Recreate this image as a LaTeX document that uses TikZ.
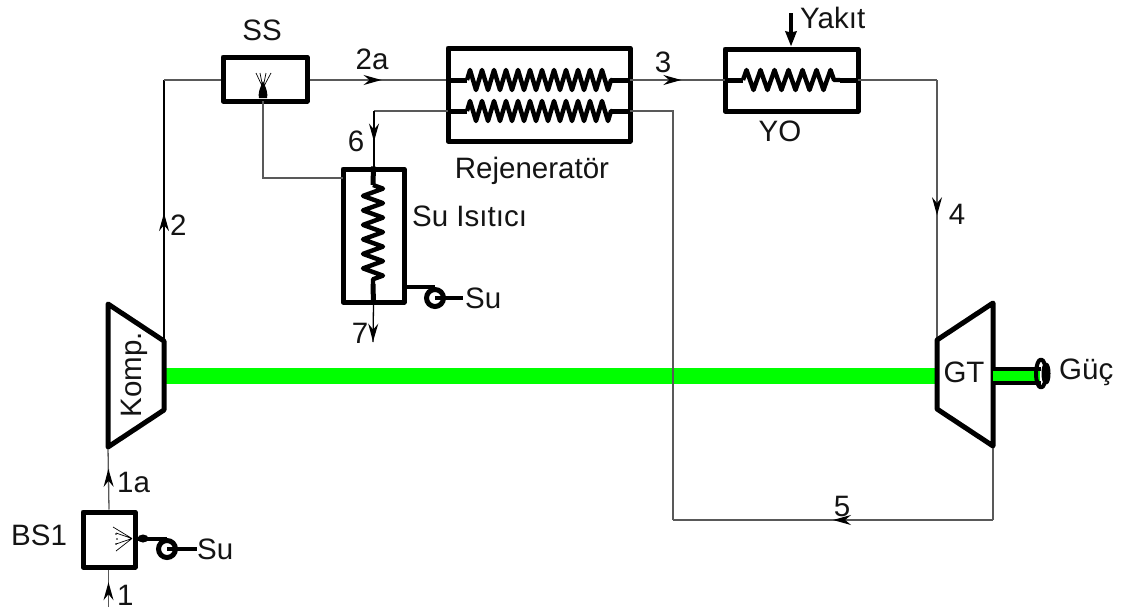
\documentclass[tikz,border=0pt]{standalone}
\usepackage{fontspec}
\setmainfont{Liberation Sans}
\usetikzlibrary{arrows.meta,decorations.pathmorphing,decorations.markings}
\tikzset{
  x=1pt,y=-1pt,
  lbl/.style={inner sep=0pt,font=\fontsize{29.5}{29.5}\selectfont,text=black!92},
  box/.style={draw=black,line width=5pt,line join=round,inner sep=0pt,fill=none},
  pipe/.style={draw=black!65,line width=1.3pt},
  solid pipe/.style={draw=black,line width=1.3pt},
  heavy/.style={draw=black,line width=5pt,line join=round},
  coil/.style={draw=black,line width=4.4pt,line join=round,decorate,
    decoration={zigzag,segment length=#1,amplitude=10pt}},
  headat/.style={postaction={decorate},decoration={markings,mark=at position #1 with
    {\arrow[black]{Stealth[length=18pt,width=10pt,inset=6pt]}}}},
  spray/.style={draw=black,line width=0.7pt},
  pumpc/.style={circle,draw=black,line width=5pt,minimum size=17pt,inner sep=0pt},
}
\begin{document}
\begin{tikzpicture}
\useasboundingbox (0,0) rectangle (1129,613);
% named points
\coordinate (kTL) at (108,304); \coordinate (kTR) at (164,341);
\coordinate (kBR) at (164,410); \coordinate (kBL) at (108,447);
\coordinate (gTL) at (937,340); \coordinate (gTR) at (993,303);
\coordinate (gBR) at (993,446); \coordinate (gBL) at (937,409);
\coordinate (in1) at (108.5,607);
\coordinate (corner2) at (164,80);
\coordinate (r1w) at (448,80); \coordinate (r1e) at (630,80);
\coordinate (r2w) at (448,111); \coordinate (r2e) at (630,111);
\coordinate (c1a) at (467,80); \coordinate (c1b) at (612,80);
\coordinate (c2a) at (467,111); \coordinate (c2b) at (612,111);
\coordinate (yw) at (725,80); \coordinate (ye) at (858,80);
\coordinate (yca) at (743,80); \coordinate (ycb) at (840,80);
\coordinate (cr4) at (937,80);
\coordinate (d5a) at (993,520); \coordinate (d5b) at (673,520); \coordinate (d5c) at (673,111);
\coordinate (c6) at (374,111); \coordinate (hca) at (373,185); \coordinate (hcb) at (373,284);
\coordinate (out7) at (373,342);
\coordinate (feedC) at (263,178); \coordinate (feedE) at (343,178);
\coordinate (yakit) at (791,13);
\coordinate (nozB) at (135,538.5); \coordinate (nozP) at (167,538.5); \coordinate (hp) at (404,287); \coordinate (hq) at (435,287);
\coordinate (ssnoz) at (263,101);
% green shaft
\fill[green!100!black] (165,368) rectangle (937,384);
% thin pipes
\draw[pipe,headat=0.62] (in1) -- (108.5,567);
\node[box,minimum width=52pt,minimum height=55pt] (bs) at (109,539.5) {};
\draw[pipe,headat=0.65] (bs.north) -- (kBL);
\draw[solid pipe,headat=0.49] (kTR) -- (corner2);
\node[box,minimum width=84pt,minimum height=44pt] (ss) at (265,79) {};
\draw[pipe] (corner2) -- (ss.west |- corner2);
\draw[pipe,headat=0.52] (ss.east |- corner2) -- (r1w);
\node[box,minimum width=182pt,minimum height=93pt] (reg) at (539,94.5) {};
\node[box,minimum width=133pt,minimum height=62pt] (yo) at (791.5,80) {};
\node[box,minimum width=61pt,minimum height=133pt] (hx) at (373.5,235.5) {};
\draw[pipe,headat=0.54] (r1e) -- (yw);
\draw[pipe] (ye) -- (cr4);
\draw[pipe,headat=0.52] (cr4) -- (gTL);
\draw[pipe] (gBR) -- (d5a);
\draw[pipe,headat=0.5] (d5a) -- (d5b);
\draw[pipe] (d5b) -- (d5c) -- (r2e);
\draw[pipe] (r2w) -- (c6);
\draw[solid pipe,headat=0.55] (c6) -- (c6 |- hx.north);
\draw[solid pipe,headat=0.99] (hx.south) -- (out7);
\draw[pipe] (ssnoz) -- (feedC) -- (feedE);
% coils
\draw[heavy] (r1w) -- (c1a) (c1b) -- (r1e) (r2w) -- (c2a) (c2b) -- (r2e) (yw) -- (yca) (ycb) -- (ye);
\draw[coil=12pt] (c1a) -- (c1b);
\draw[coil=12pt] (c2a) -- (c2b);
\draw[coil=14pt] (yca) -- (ycb);
\draw[heavy] (hx.north) -- (hca) (hcb) -- (hx.south);
\draw[coil=14.5pt] (hca) -- (hcb);
% machines
\draw[heavy] (kTL) -- (kTR) -- (kBR) -- (kBL) -- cycle;
\draw[heavy] (gTL) -- (gTR) -- (gBR) -- (gBL) -- cycle;
% fuel arrow
\draw[draw=black,line width=4pt,-{Stealth[length=15pt,width=11pt,inset=1pt]}] (yakit) -- (yakit |- yo.north);
% sprays
\draw[heavy,line width=4pt] (nozB) -- (nozP);
\fill[black] (143,538.5) ellipse (5.5pt and 4pt);
\draw[spray] (132,538.5) -- (113,527) (132,538.5) -- (116,533) (132,538.5) -- (116,544) (132,538.5) -- (116,551);
\fill[black] (116,534) circle (.8pt) (117,539) circle (.8pt) (116,544) circle (.8pt);
\fill[black] (263,81) .. controls (267,90) and (268,94) .. (267,98) -- (259,98) .. controls (258,94) and (259,90) .. (263,81) -- cycle;
\draw[spray] (263,88) -- (256,73) (263,88) -- (260,73) (263,88) -- (266,73) (263,88) -- (271,73);
% pumps
\node[pumpc] (p1) at (167,549) {};
\draw[heavy,line width=4pt] (p1.center) -- (197,549);
\node[pumpc] (p2) at (435,298) {};
\draw[heavy,line width=4pt] (hp) -- (hq) -- (p2.north);
\draw[heavy,line width=4pt] (p2.center) -- (463,298);
% output shaft
\fill[green!100!black] (993,371) rectangle (1040,381);
\draw[heavy,line width=4pt] (993,369) -- (1041,369) (993,383) -- (1041,383);
\draw[heavy,line width=4pt] (1041,373.5) ellipse (5pt and 14pt);
\draw[heavy,line width=4pt] (1046,373.5) ellipse (2.5pt and 9pt);
% labels
\node[lbl,anchor=west] (tBS) at (11,535) {BS1};
\node[lbl,anchor=west] (t1) at (117,595) {1};
\node[lbl,anchor=west] (t1a) at (117,482) {1a};
\node[lbl,anchor=west] (tSu1) at (197,549) {Su};
\node[lbl,anchor=west] (t2) at (170,225) {2};
\node[lbl] (tSS) at (262,30) {SS};
\node[lbl] (t2a) at (372,59) {2a};
\node[lbl] (t3) at (663,62) {3};
\node[lbl,anchor=west] (tYakit) at (800,18) {Yakıt};
\node[lbl] (tYO) at (780,131) {YO};
\node[lbl] (tReg) at (532,171) {Rejeneratör};
\node[lbl] (t6) at (356,141) {6};
\node[lbl,anchor=west] (tSI) at (412,216) {Su Isıtıcı};
\node[lbl,anchor=west] (tSu2) at (465,298) {Su};
\node[lbl] (t7) at (360,333) {7};
\node[lbl] (t4) at (957,214) {4};
\node[lbl] (t5) at (842,506) {5};
\node[lbl,rotate=90] (tK) at (134,375) {Komp.};
\node[lbl] (tGT) at (964,372) {GT};
\node[lbl,anchor=west] (tG) at (1059,372) {Güç};
\end{tikzpicture}
\end{document}
